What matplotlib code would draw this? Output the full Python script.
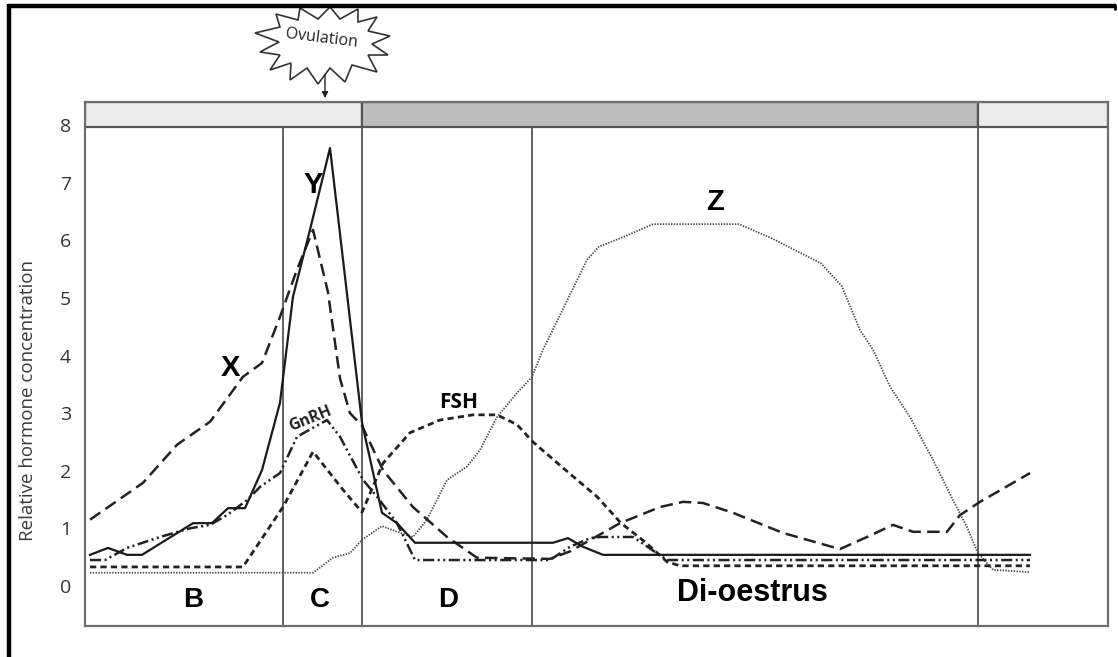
import numpy as np
import matplotlib
matplotlib.use("Agg")
import matplotlib.pyplot as plt
from matplotlib.patches import Rectangle, Polygon

plt.rcParams['lines.scale_dashes'] = False

# ---------------- data (cycle time 0-100, relative concentration) ----------------
phase_lines = [19.35, 27.08, 43.70, 87.29]
bar_segments = [(0.0, 27.08, '#ececec'), (27.08, 87.29, '#bdbdbd'), (87.29, 100.0, '#ececec')]
yticks = [0, 1, 2, 3, 4, 5, 6, 7, 8]

y_t = [0.49, 2.25, 4.11, 5.57, 10.56, 12.41, 13.98, 15.64, 17.30, 19.06, 20.33, 21.99,
       23.95, 27.08, 29.03, 30.50, 32.26, 45.75, 47.21, 48.68, 50.64, 92.38]
y_v = [0.54, 0.66, 0.54, 0.54, 1.09, 1.09, 1.35, 1.35, 2.01, 3.18, 5.02, 6.18,
       7.6, 2.83, 1.27, 1.09, 0.75, 0.75, 0.83, 0.68, 0.54, 0.54]

x_t = [0.49, 5.67, 8.99, 12.22, 15.44, 17.30, 19.06, 20.72, 22.29, 23.75, 24.93, 25.90,
       27.08, 29.13, 32.06, 35.39, 38.32, 45.45, 47.41, 52.30, 56.21, 58.46, 60.41,
       63.34, 68.23, 73.80, 76.44, 78.98, 80.94, 84.26, 85.53, 87.49, 92.38]
x_v = [1.15, 1.79, 2.45, 2.85, 3.63, 3.87, 4.67, 5.49, 6.18, 5.1, 3.6, 3.0,
       2.78, 2.01, 1.37, 0.85, 0.49, 0.47, 0.6, 1.09, 1.37, 1.46, 1.44,
       1.27, 0.92, 0.64, 0.85, 1.06, 0.94, 0.94, 1.23, 1.46, 1.96]

gnrh_t = [0.49, 1.96, 4.11, 7.33, 10.26, 12.22, 13.88, 15.84, 17.11, 19.06, 20.72, 23.66,
          24.93, 25.61, 27.18, 28.54, 30.50, 32.26, 45.45, 47.41, 49.37, 50.34, 53.57,
          56.89, 92.38]
gnrh_v = [0.45, 0.45, 0.66, 0.85, 1.0, 1.06, 1.23, 1.49, 1.72, 1.96, 2.59, 2.88,
          2.59, 2.36, 1.84, 1.55, 1.09, 0.45, 0.45, 0.68, 0.83, 0.85, 0.85,
          0.45, 0.45]

fsh_t = [0.49, 15.44, 19.35, 22.29, 25.22, 27.08, 29.13, 31.77, 34.70, 37.93, 40.27,
         42.23, 43.79, 46.72, 50.05, 52.40, 54.84, 56.89, 58.16, 92.38]
fsh_v = [0.33, 0.33, 1.37, 2.33, 1.67, 1.28, 2.13, 2.66, 2.88, 2.97, 2.97,
         2.8, 2.5, 2.05, 1.55, 1.09, 0.75, 0.42, 0.35, 0.35]

z_t = [0.49, 22.29, 24.24, 25.90, 27.08, 29.03, 30.50, 32.06, 33.43, 35.39, 37.34, 38.61,
       40.27, 42.23, 43.70, 44.77, 46.43, 47.80, 49.07, 50.24, 52.40, 55.52, 63.93,
       67.06, 71.94, 73.99, 75.76, 77.03, 78.69, 80.65, 82.89, 84.85, 86.22, 87.29,
       88.76, 92.38]
z_v = [0.23, 0.23, 0.49, 0.57, 0.8, 1.04, 0.94, 0.85, 1.15, 1.84, 2.07, 2.36,
       2.93, 3.35, 3.63, 4.1, 4.7, 5.2, 5.66, 5.89, 6.04, 6.28, 6.28,
       6.04, 5.6, 5.2, 4.44, 4.1, 3.46, 2.93, 2.19, 1.49, 1.02, 0.57,
       0.28, 0.24]

phase_labels = [("B", 10.56), ("C", 22.97), ("D", 35.5)]

# ---------------- figure ----------------
W, H = 1118, 657
fig = plt.figure(figsize=(W / 100, H / 100), dpi=100)
fig.patch.set_facecolor('white')

ax = fig.add_axes([85 / W, (H - 626) / H, 1023 / W, 524 / H])
ax.set_xlim(0, 100)
ax.set_ylim(-0.695, 8.40)
bar_bottom = 7.97

edge = '#6e6e6e'
for s in ax.spines.values():
    s.set_color(edge)
    s.set_linewidth(1.6)

# hormone bar at the top
for a, b, c in bar_segments:
    ax.add_patch(Rectangle((a, bar_bottom), b - a, 8.40 - bar_bottom, facecolor=c,
                           edgecolor='#555555', linewidth=1.6, zorder=1))

# phase separators
for i, p in enumerate(phase_lines):
    top = 8.40 if i in (1, 3) else bar_bottom
    ax.plot([p, p], [-0.695, top], color='#555555', lw=1.3, zorder=2, solid_capstyle='butt')

lc = '#222222'
ax.plot(z_t, z_v, color='#4a4a4a', lw=1.3, linestyle=(0, (1.0, 1.0)), zorder=3)
ax.plot(fsh_t, fsh_v, color=lc, lw=2.0, linestyle=(0, (4.5, 3.0)), zorder=4)
ax.plot(gnrh_t, gnrh_v, color=lc, lw=1.8, linestyle=(0, (8, 2.5, 1.5, 2.5, 1.5, 2.5)), zorder=4)
ax.plot(x_t, x_v, color=lc, lw=1.8, linestyle=(0, (9, 4.5)), zorder=5)
ax.plot(y_t, y_v, color='#1a1a1a', lw=1.6, zorder=6)

ax.set_xticks([])
ax.set_yticks(yticks)
ax.set_yticklabels([str(v) for v in yticks], family='Open Sans', fontsize=14, color='#333333')
ax.tick_params(axis='y', length=0, pad=10)
ax.set_ylabel('Relative hormone concentration', family='Open Sans', fontsize=13.5,
              color='#3a3a3a', labelpad=10)
ax.yaxis.set_label_coords(-0.047, 0.43)

bold = dict(family='Liberation Sans', fontweight='bold', color='black', ha='center', va='center')
ax.text(22.3, 6.96, 'Y', fontsize=21, **bold)
ax.text(14.17, 3.78, 'X', fontsize=21, **bold)
ax.text(61.6, 6.67, 'Z', fontsize=21, **bold)
for lab, t in phase_labels:
    ax.text(t, -0.24, lab, fontsize=20, **bold)
ax.text(65.2, -0.12, 'Di-oestrus', fontsize=22, **bold)
ax.text(36.5, 3.19, 'FSH', family='Open Sans', fontweight='bold', fontsize=15,
        ha='center', va='center', color='black')
ax.text(22.0, 2.9, 'GnRH', family='Open Sans', fontweight='bold', fontsize=11.5,
        ha='center', va='center', color='#222222', rotation=22)

# ---------------- overlay (frame, ovulation burst) ----------------
ov = fig.add_axes([0, 0, 1, 1])
ov.set_xlim(0, W)
ov.set_ylim(H, 0)
ov.axis('off')
ov.patch.set_alpha(0)

ov.plot([9, 9], [4, H], color='black', lw=3.2, solid_capstyle='butt')
ov.plot([7.5, 1116], [5.5, 5.5], color='black', lw=3.2, solid_capstyle='butt')
ov.plot([1115, 1115], [4, 10], color='black', lw=2.0, solid_capstyle='butt')

# starburst outline (pixel coordinates of the decoration)
burst = [(255, 33), (280, 27), (276, 14), (298, 20), (300, 8), (318, 19), (330, 7),
         (340, 19), (358, 9), (358, 22), (377, 17), (368, 31), (390, 36), (372, 44),
         (388, 55), (368, 55), (377, 72), (352, 65), (345, 82), (330, 68), (318, 84),
         (307, 68), (290, 80), (291, 63), (270, 70), (280, 55), (260, 52), (279, 42)]
ov.add_patch(Polygon(burst, closed=True, facecolor='white', edgecolor='#333333', lw=1.2))
ov.text(322, 38, 'Ovulation', family='Open Sans', fontsize=11.5, color='#222222',
        ha='center', va='center', rotation=-7)
ov.annotate('', xy=(325, 101), xytext=(325, 72),
            arrowprops=dict(arrowstyle='-|>', color='#222222', lw=1.0, mutation_scale=9))

fig.savefig('out.png', dpi=100, facecolor='white')
